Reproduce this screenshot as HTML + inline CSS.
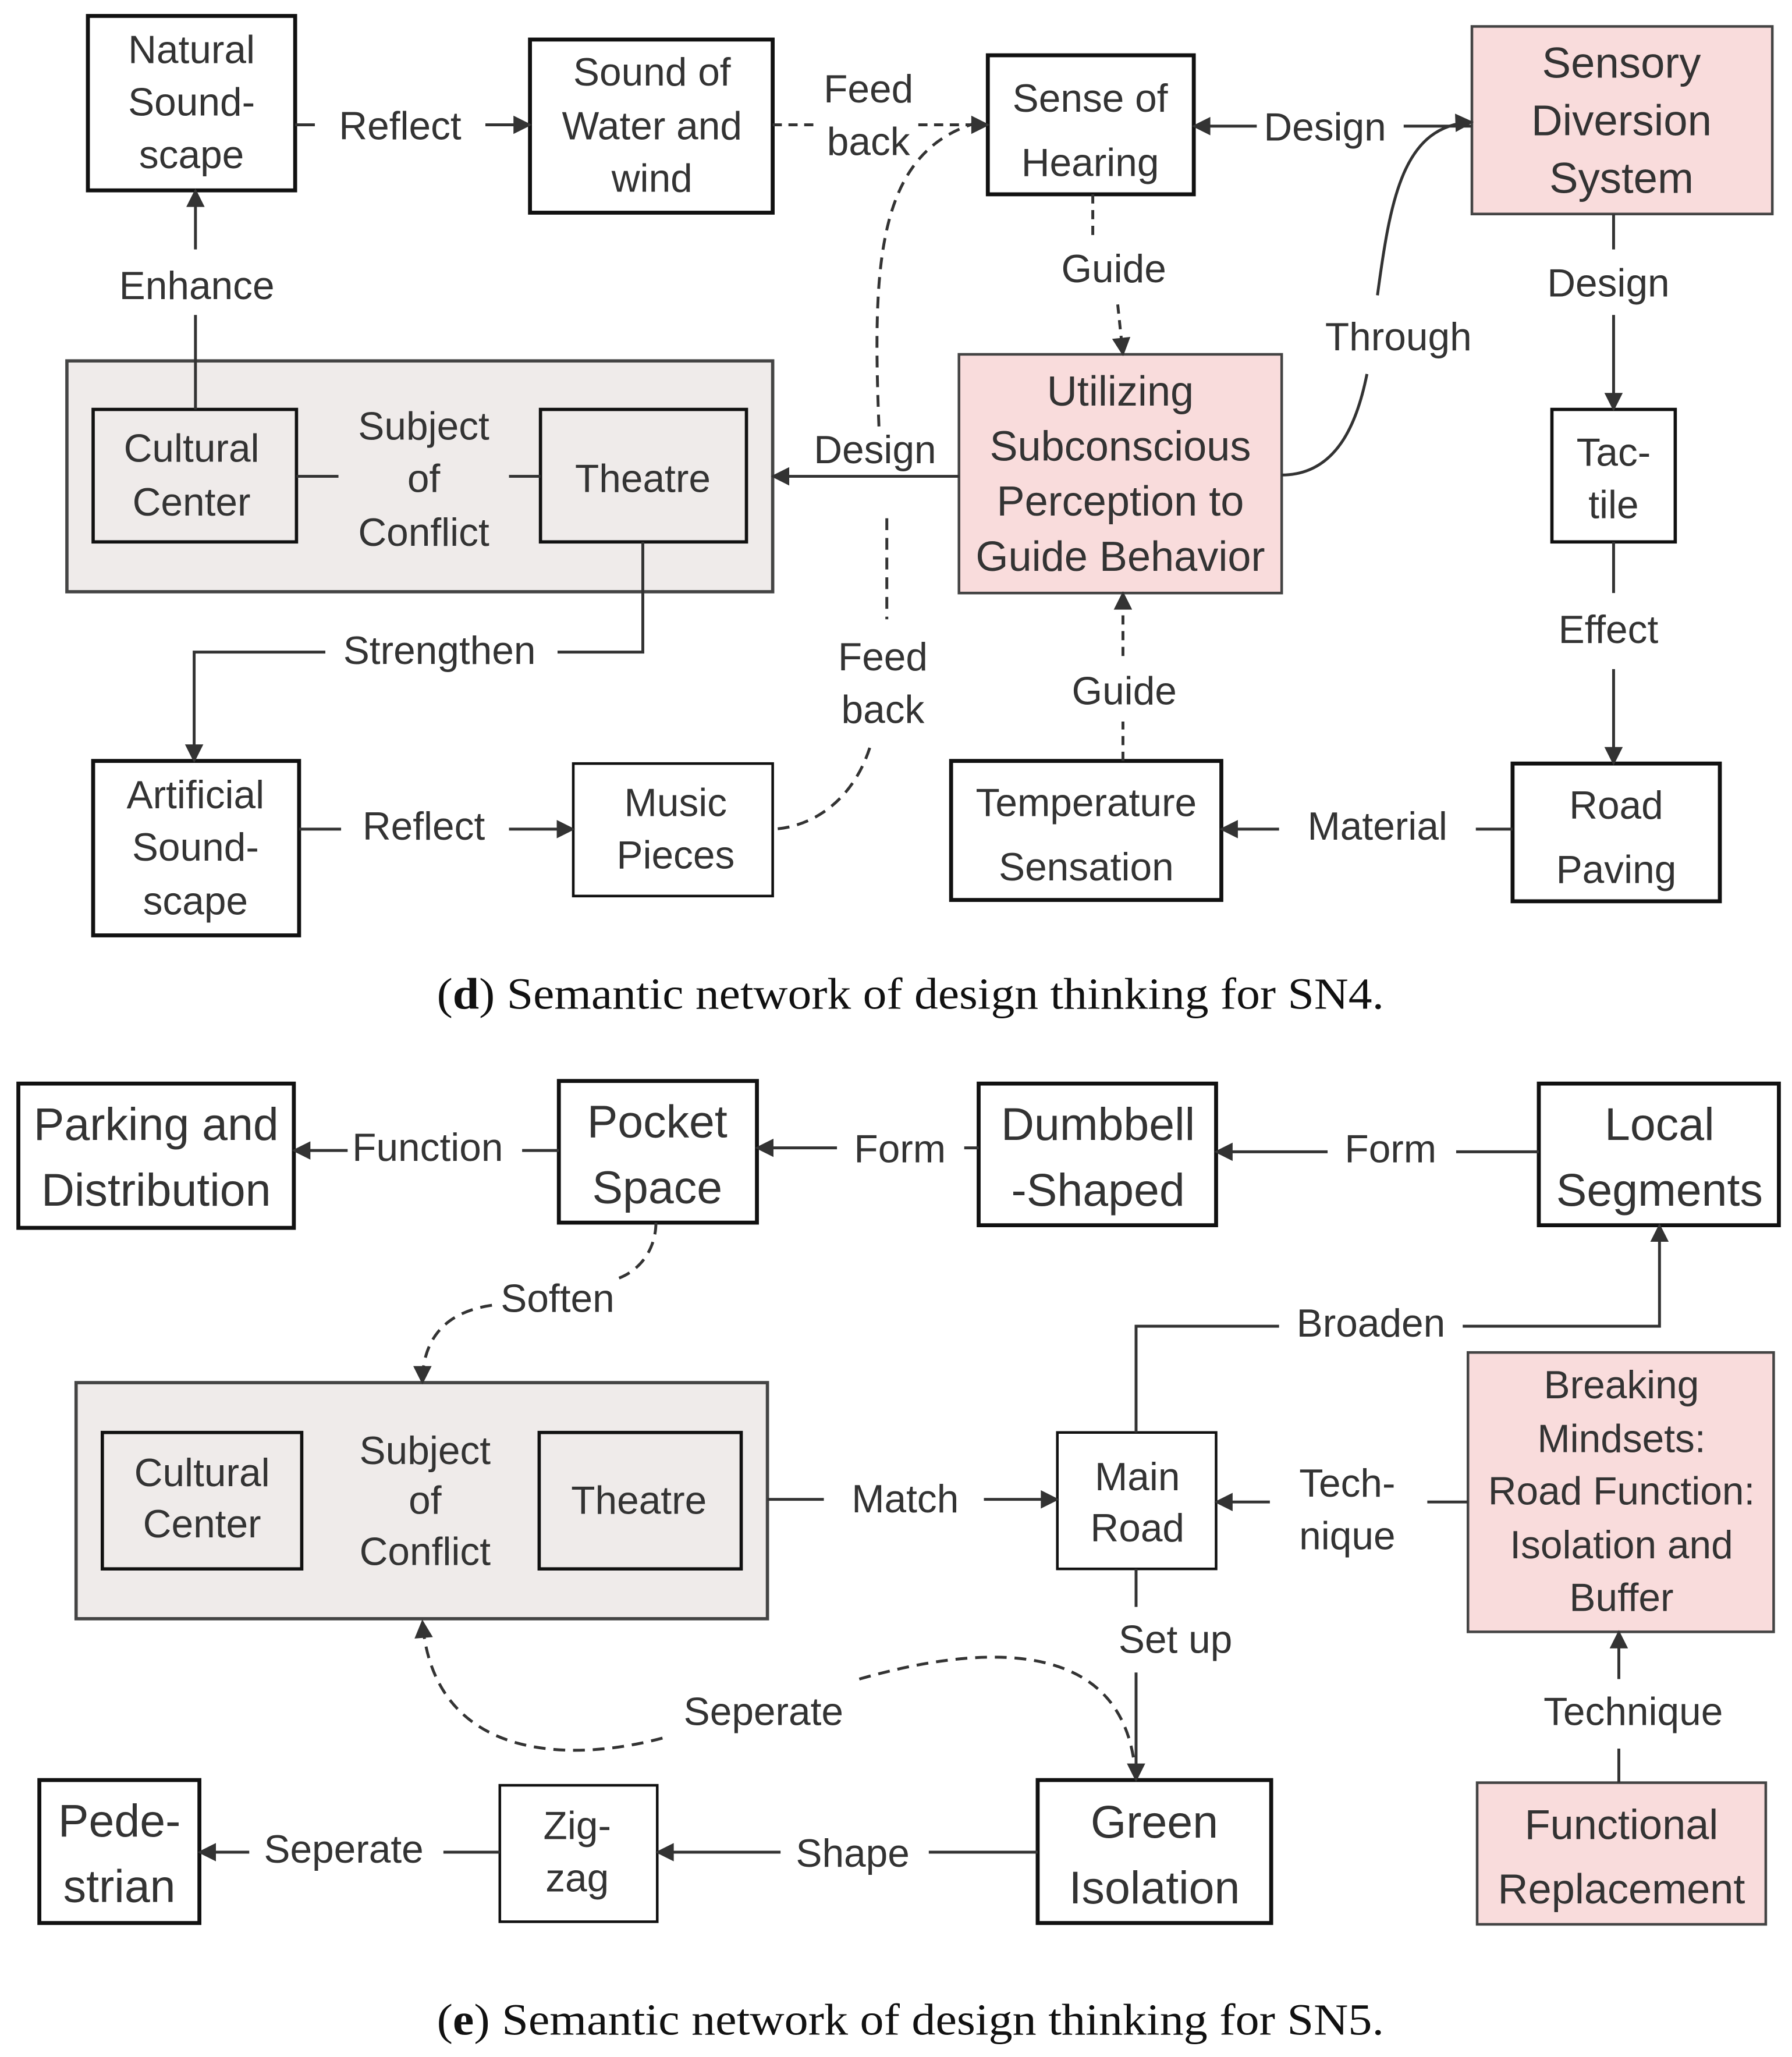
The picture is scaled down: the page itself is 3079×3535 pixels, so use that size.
<!DOCTYPE html>
<html><head><meta charset="utf-8"><style>
html,body{margin:0;padding:0;background:#fff;}
svg{display:block;}
</style></head><body>
<svg xmlns="http://www.w3.org/2000/svg" width="3079" height="3535" viewBox="0 0 1366 1568">
<defs>
<marker id="b" viewBox="0 0 10 10" refX="9" refY="5" markerWidth="16" markerHeight="14" orient="auto" markerUnits="userSpaceOnUse">
<path d="M0,0 L10,5 L0,10 z" fill="#333"/></marker>
</defs>
<rect width="1366" height="1568" fill="#fff"/>
<g fill="none" stroke="#111" stroke-width="3">
<rect x="67" y="12" width="158" height="133"/>
<rect x="404" y="30" width="185" height="132"/>
<rect x="753" y="42" width="157" height="106"/>
<rect x="1122" y="20" width="229" height="143" fill="#f9dcdc" stroke="#444" stroke-width="2"/>
<rect x="51" y="275" width="538" height="176" fill="#efebea" stroke="#444" stroke-width="2.5"/>
<rect x="71" y="312" width="155" height="101" stroke-width="2.5"/>
<rect x="412" y="312" width="157" height="101" stroke-width="2.5"/>
<rect x="731" y="270" width="246" height="182" fill="#f9dcdc" stroke="#444" stroke-width="2"/>
<rect x="1183" y="312" width="94" height="101" stroke-width="2.5"/>
<rect x="71" y="580" width="157" height="133"/>
<rect x="437" y="582" width="152" height="101" stroke-width="2"/>
<rect x="725" y="580" width="206" height="106"/>
<rect x="1153" y="582" width="158" height="105"/>
<rect x="14" y="826" width="210" height="110"/>
<rect x="426" y="824" width="151" height="108"/>
<rect x="746" y="826" width="181" height="108"/>
<rect x="1173" y="826" width="183" height="108"/>
<rect x="58" y="1054" width="527" height="180" fill="#efebea" stroke="#444" stroke-width="2.5"/>
<rect x="78" y="1092" width="152" height="104" stroke-width="2.5"/>
<rect x="411" y="1092" width="154" height="104" stroke-width="2.5"/>
<rect x="806" y="1092" width="121" height="104" stroke-width="2"/>
<rect x="1119" y="1031" width="233" height="213" fill="#f9dcdc" stroke="#444" stroke-width="2"/>
<rect x="30" y="1357" width="122" height="109"/>
<rect x="381" y="1361" width="120" height="104" stroke-width="2"/>
<rect x="791" y="1357" width="178" height="109"/>
<rect x="1126" y="1359" width="220" height="108" fill="#f9dcdc" stroke="#444" stroke-width="2"/>
</g>
<g fill="none" stroke="#333" stroke-width="2.2">
<path d="M225,95 H240"/><path d="M370,95 H404" marker-end="url(#b)"/>
<path d="M589,95 H625" stroke-dasharray="7,5"/><path d="M700,95 H753" stroke-dasharray="7,5" marker-end="url(#b)"/>
<path d="M1122,96 H1070" /><path d="M958,96 H910" marker-end="url(#b)"/>
<path d="M149,312 V240"/><path d="M149,190 V145" marker-end="url(#b)"/>
<path d="M833,148 V180" stroke-dasharray="7,5"/><path d="M852,232 L856,270" stroke-dasharray="7,5" marker-end="url(#b)"/>
<path d="M670,325 C665,200 668,112 750,92" stroke-dasharray="9,6"/>
<path d="M676,395 V472" stroke-dasharray="9,6"/>
<path d="M663,570 C650,610 620,630 590,632" stroke-dasharray="9,6"/>
<path d="M731,363 H589" marker-end="url(#b)"/>
<path d="M977,362 C1020,362 1035,320 1042,285"/>
<path d="M1050,225 C1060,150 1070,95 1122,93" marker-end="url(#b)"/>
<path d="M1230,163 V190"/><path d="M1230,240 V312" marker-end="url(#b)"/>
<path d="M1230,413 V452"/><path d="M1230,510 V582" marker-end="url(#b)"/>
<path d="M1153,632 H1125"/><path d="M975,632 H931" marker-end="url(#b)"/>
<path d="M856,580 V550" stroke-dasharray="7,5"/><path d="M856,500 V452" stroke-dasharray="7,5" marker-end="url(#b)"/>
<path d="M490,413 V497 H425"/><path d="M248,497 H148 V580" marker-end="url(#b)"/>
<path d="M228,632 H260"/><path d="M388,632 H437" marker-end="url(#b)"/>
<path d="M226,363 H258"/><path d="M388,363 H412"/>
<path d="M426,877 H398"/><path d="M265,877 H224" marker-end="url(#b)"/>
<path d="M746,875 H735"/><path d="M638,875 H577" marker-end="url(#b)"/>
<path d="M1173,878 H1110"/><path d="M1012,878 H927" marker-end="url(#b)"/>
<path d="M500,932 C500,950 490,968 470,975" stroke-dasharray="9,6"/>
<path d="M375,995 C340,1000 322,1020 322,1054" stroke-dasharray="9,6" marker-end="url(#b)"/>
<path d="M866,1092 V1011 H975"/><path d="M1115,1011 H1265 V934" marker-end="url(#b)"/>
<path d="M585,1143 H628"/><path d="M750,1143 H806" marker-end="url(#b)"/>
<path d="M1119,1145 H1088"/><path d="M968,1145 H927" marker-end="url(#b)"/>
<path d="M866,1196 V1225"/><path d="M866,1275 V1357" marker-end="url(#b)"/>
<path d="M655,1280 C760,1250 850,1255 864,1340" stroke-dasharray="9,6"/>
<path d="M505,1325 C430,1345 330,1340 322,1236" stroke-dasharray="9,6" marker-end="url(#b)"/>
<path d="M1234,1359 V1333"/><path d="M1234,1280 V1244" marker-end="url(#b)"/>
<path d="M791,1412 H708"/><path d="M595,1412 H501" marker-end="url(#b)"/>
<path d="M381,1412 H338"/><path d="M190,1412 H152" marker-end="url(#b)"/>
</g>
<g font-family="Liberation Sans, DejaVu Sans, sans-serif" font-size="30" fill="#333" text-anchor="middle">
<text x="146" y="48">Natural</text><text x="146" y="88">Sound-</text><text x="146" y="128">scape</text>
<text x="305" y="106">Reflect</text>
<text x="497" y="65">Sound of</text><text x="497" y="106">Water and</text><text x="497" y="146">wind</text>
<text x="662" y="78">Feed</text><text x="662" y="118">back</text>
<text x="831" y="85">Sense of</text><text x="831" y="134">Hearing</text>
<text x="1010" y="107">Design</text>
<text x="1236" y="59" font-size="33">Sensory</text><text x="1236" y="103" font-size="33">Diversion</text><text x="1236" y="147" font-size="33">System</text>
<text x="150" y="228">Enhance</text>
<text x="849" y="215">Guide</text>
<text x="1066" y="267">Through</text>
<text x="1226" y="226">Design</text>
<text x="146" y="352">Cultural</text><text x="146" y="393">Center</text>
<text x="323" y="335">Subject</text><text x="323" y="375">of</text><text x="323" y="416">Conflict</text>
<text x="490" y="375">Theatre</text>
<text x="667" y="353">Design</text>
<text x="854" y="309" font-size="32">Utilizing</text><text x="854" y="351" font-size="32">Subconscious</text><text x="854" y="393" font-size="32">Perception to</text><text x="854" y="435" font-size="32">Guide Behavior</text>
<text x="1230" y="355">Tac-</text><text x="1230" y="395">tile</text>
<text x="1226" y="490">Effect</text>
<text x="335" y="506">Strengthen</text>
<text x="673" y="511">Feed</text><text x="673" y="551">back</text>
<text x="857" y="537">Guide</text>
<text x="149" y="616">Artificial</text><text x="149" y="656">Sound-</text><text x="149" y="697">scape</text>
<text x="323" y="640">Reflect</text>
<text x="515" y="622">Music</text><text x="515" y="662">Pieces</text>
<text x="828" y="622">Temperature</text><text x="828" y="671">Sensation</text>
<text x="1050" y="640">Material</text>
<text x="1232" y="624">Road</text><text x="1232" y="673">Paving</text>
<text x="119" y="869" font-size="35">Parking and</text><text x="119" y="919" font-size="35">Distribution</text>
<text x="326" y="885">Function</text>
<text x="501" y="867" font-size="35">Pocket</text><text x="501" y="917" font-size="35">Space</text>
<text x="686" y="886">Form</text>
<text x="837" y="869" font-size="35">Dumbbell</text><text x="837" y="919" font-size="35">-Shaped</text>
<text x="1060" y="886">Form</text>
<text x="1265" y="869" font-size="35">Local</text><text x="1265" y="919" font-size="35">Segments</text>
<text x="425" y="1000">Soften</text>
<text x="1045" y="1019">Broaden</text>
<text x="1236" y="1066">Breaking</text><text x="1236" y="1107">Mindsets:</text><text x="1236" y="1147">Road Function:</text><text x="1236" y="1188">Isolation and</text><text x="1236" y="1228">Buffer</text>
<text x="154" y="1133">Cultural</text><text x="154" y="1172">Center</text>
<text x="324" y="1116">Subject</text><text x="324" y="1154">of</text><text x="324" y="1193">Conflict</text>
<text x="487" y="1154">Theatre</text>
<text x="690" y="1153">Match</text>
<text x="867" y="1136">Main</text><text x="867" y="1175">Road</text>
<text x="1027" y="1141">Tech-</text><text x="1027" y="1181">nique</text>
<text x="896" y="1260">Set up</text>
<text x="582" y="1315">Seperate</text>
<text x="1245" y="1315">Technique</text>
<text x="91" y="1400" font-size="35">Pede-</text><text x="91" y="1450" font-size="35">strian</text>
<text x="262" y="1420">Seperate</text>
<text x="440" y="1402">Zig-</text><text x="440" y="1442">zag</text>
<text x="650" y="1423">Shape</text>
<text x="880" y="1401" font-size="35">Green</text><text x="880" y="1451" font-size="35">Isolation</text>
<text x="1236" y="1402" font-size="32">Functional</text><text x="1236" y="1451" font-size="32">Replacement</text>
</g>
<g font-family="Liberation Serif, DejaVu Serif, serif" font-size="34" fill="#111">
<text x="333" y="769" textLength="722" lengthAdjust="spacingAndGlyphs">(<tspan font-weight="bold">d</tspan>) Semantic network of design thinking for SN4.</text>
<text x="333" y="1551" textLength="722" lengthAdjust="spacingAndGlyphs">(<tspan font-weight="bold">e</tspan>) Semantic network of design thinking for SN5.</text>
</g>
</svg>
</body></html>
